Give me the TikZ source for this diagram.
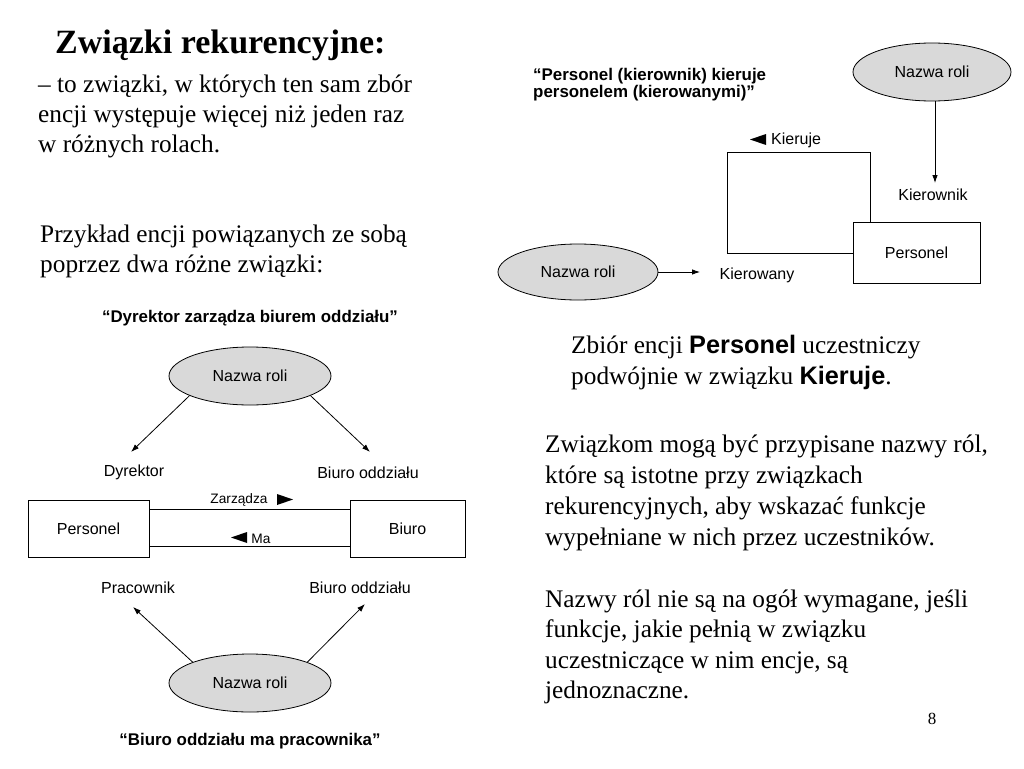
\documentclass[tikz,border=0pt]{standalone}
\usepackage{fontspec}
\setmainfont{Liberation Serif}
\setsansfont{Liberation Sans}
\usetikzlibrary{arrows.meta,shapes.geometric}
\begin{document}
\begin{tikzpicture}[x=1pt,y=-1pt,
  txt/.style={anchor=base west,inner sep=0pt,font=\fontsize{25.3}{30}\selectfont},
  dlab/.style={inner sep=0pt,font=\sffamily\fontsize{16}{19}\selectfont},
  slab/.style={inner sep=0pt,font=\sffamily\fontsize{13.7}{16}\selectfont},
  captxt/.style={inner sep=0pt,font=\sffamily\bfseries\fontsize{16.9}{19}\selectfont},
  role/.style={ellipse,draw,line width=0.8pt,fill=black!15,minimum width=#1,minimum height=58pt,inner sep=0pt,font=\sffamily\fontsize{16}{19}\selectfont},
  ent/.style={draw,line width=0.8pt,inner sep=0pt,font=\sffamily\fontsize{16}{19}\selectfont},
  arr/.style={line width=0.8pt,-{Latex[length=8pt,width=5.5pt]}},
  ln/.style={line width=0.8pt}]
\useasboundingbox (0,0) rectangle (1024,768);
% left text
\node[anchor=base west,inner sep=0pt,font=\bfseries\fontsize{34}{40}\selectfont] (title) at (55,53) {Związki rekurencyjne:};
\node[txt] (l1) at (38,92) {– to związki, w których ten sam zbór};
\node[txt] (l2) at (38,122) {encji występuje więcej niż jeden raz};
\node[txt] (l3) at (38,152) {w różnych rolach.};
\node[txt] (p1) at (40,242) {Przykład encji powiązanych ze sobą};
\node[txt] (p2) at (40,272) {poprzez dwa różne związki:};
% left diagram
\node[captxt] (capA) at (250,318) {“Dyrektor zarządza biurem oddziału”};
\node[role=162pt] (rA) at (250,376) {Nazwa roli};
\coordinate (dirT) at (131,452);
\coordinate (bioT) at (370,452);
\draw[arr] (rA.198) -- (dirT);
\draw[arr] (rA.-18) -- (bioT);
\node[dlab] (dir) at (134,472) {Dyrektor};
\node[dlab] (bio1) at (368,473) {Biuro oddziału};
\node[ent,minimum width=121pt,minimum height=57pt] (pers) at (88.5,528.5) {Personel};
\node[ent,minimum width=115pt,minimum height=57pt] (biuro) at (407.5,528.5) {Biuro};
\draw[ln] ([yshift=-18pt]pers.east) -- ([yshift=-18pt]biuro.west);
\draw[ln] ([yshift=19pt]pers.east) -- ([yshift=19pt]biuro.west);
\node[slab] (zarz) at (239,500) {Zarządza};
\node[slab] (ma) at (261,539) {Ma};
\fill (277,494) -- (293,499.5) -- (277,505) -- cycle;
\fill (247,532) -- (231,537.5) -- (247,543) -- cycle;
\node[dlab] (prac) at (138,588) {Pracownik};
\node[dlab] (bio2) at (360,588) {Biuro oddziału};
\node[role=162pt] (rB) at (250,683) {Nazwa roli};
\coordinate (pracT) at (133,607);
\coordinate (bio2T) at (365,604);
\draw[arr] (rB.160) -- (pracT);
\draw[arr] (rB.20) -- (bio2T);
\node[captxt] (capB) at (250,741) {“Biuro oddziału ma pracownika”};
% right diagram
\node[captxt,anchor=base west] (capC) at (533,80) {“Personel (kierownik) kieruje};
\node[captxt,anchor=base west] (capC2) at (533,97) {personelem (kierowanymi)”};
\node[role=158pt] (rC) at (932,72) {Nazwa roli};
\coordinate (kierT) at (935,183);
\draw[arr] (rC.south -| kierT) -- (kierT);
\node[dlab] (kier) at (933,195) {Kierownik};
\node[ent,minimum width=127pt,minimum height=61pt] (pers2) at (916.5,252.5) {Personel};
\coordinate (lpA) at (870,152);
\coordinate (lpB) at (727,152);
\coordinate (lpC) at (727,253);
\draw[ln] (lpA |- pers2.north) -- (lpA) -- (lpB) -- (lpC) -- (lpC -| pers2.west);
\fill (766,134) -- (750,139.5) -- (766,145) -- cycle;
\node[dlab,anchor=west] (kieruje) at (771,140) {Kieruje};
\node[role=160pt,minimum height=56pt] (rD) at (578,272) {Nazwa roli};
\coordinate (kwT) at (700,272);
\draw[arr] (rD.east) -- (kwT);
\node[dlab] (kw) at (757,275) {Kierowany};
% right text
\node[txt] (r1) at (571,353) {Zbiór encji {\sffamily\bfseries Personel} uczestniczy};
\node[txt] (r2) at (571,384) {podwójnie w związku {\sffamily\bfseries Kieruje}.};
\node[txt] (s1) at (545,452) {Związkom mogą być przypisane nazwy ról,};
\node[txt] (s2) at (545,483) {które są istotne przy związkach};
\node[txt] (s3) at (545,514) {rekurencyjnych, aby wskazać funkcje};
\node[txt] (s4) at (545,545) {wypełniane w nich przez uczestników.};
\node[txt] (t1) at (545,607) {Nazwy ról nie są na ogół wymagane, jeśli};
\node[txt] (t2) at (545,637) {funkcje, jakie pełnią w związku};
\node[txt] (t3) at (545,668) {uczestniczące w nim encje, są};
\node[txt] (t4) at (545,698) {jednoznaczne.};
\node[anchor=base,inner sep=0pt,font=\fontsize{17}{20}\selectfont] (pg) at (932,724) {8};
\end{tikzpicture}
\end{document}
